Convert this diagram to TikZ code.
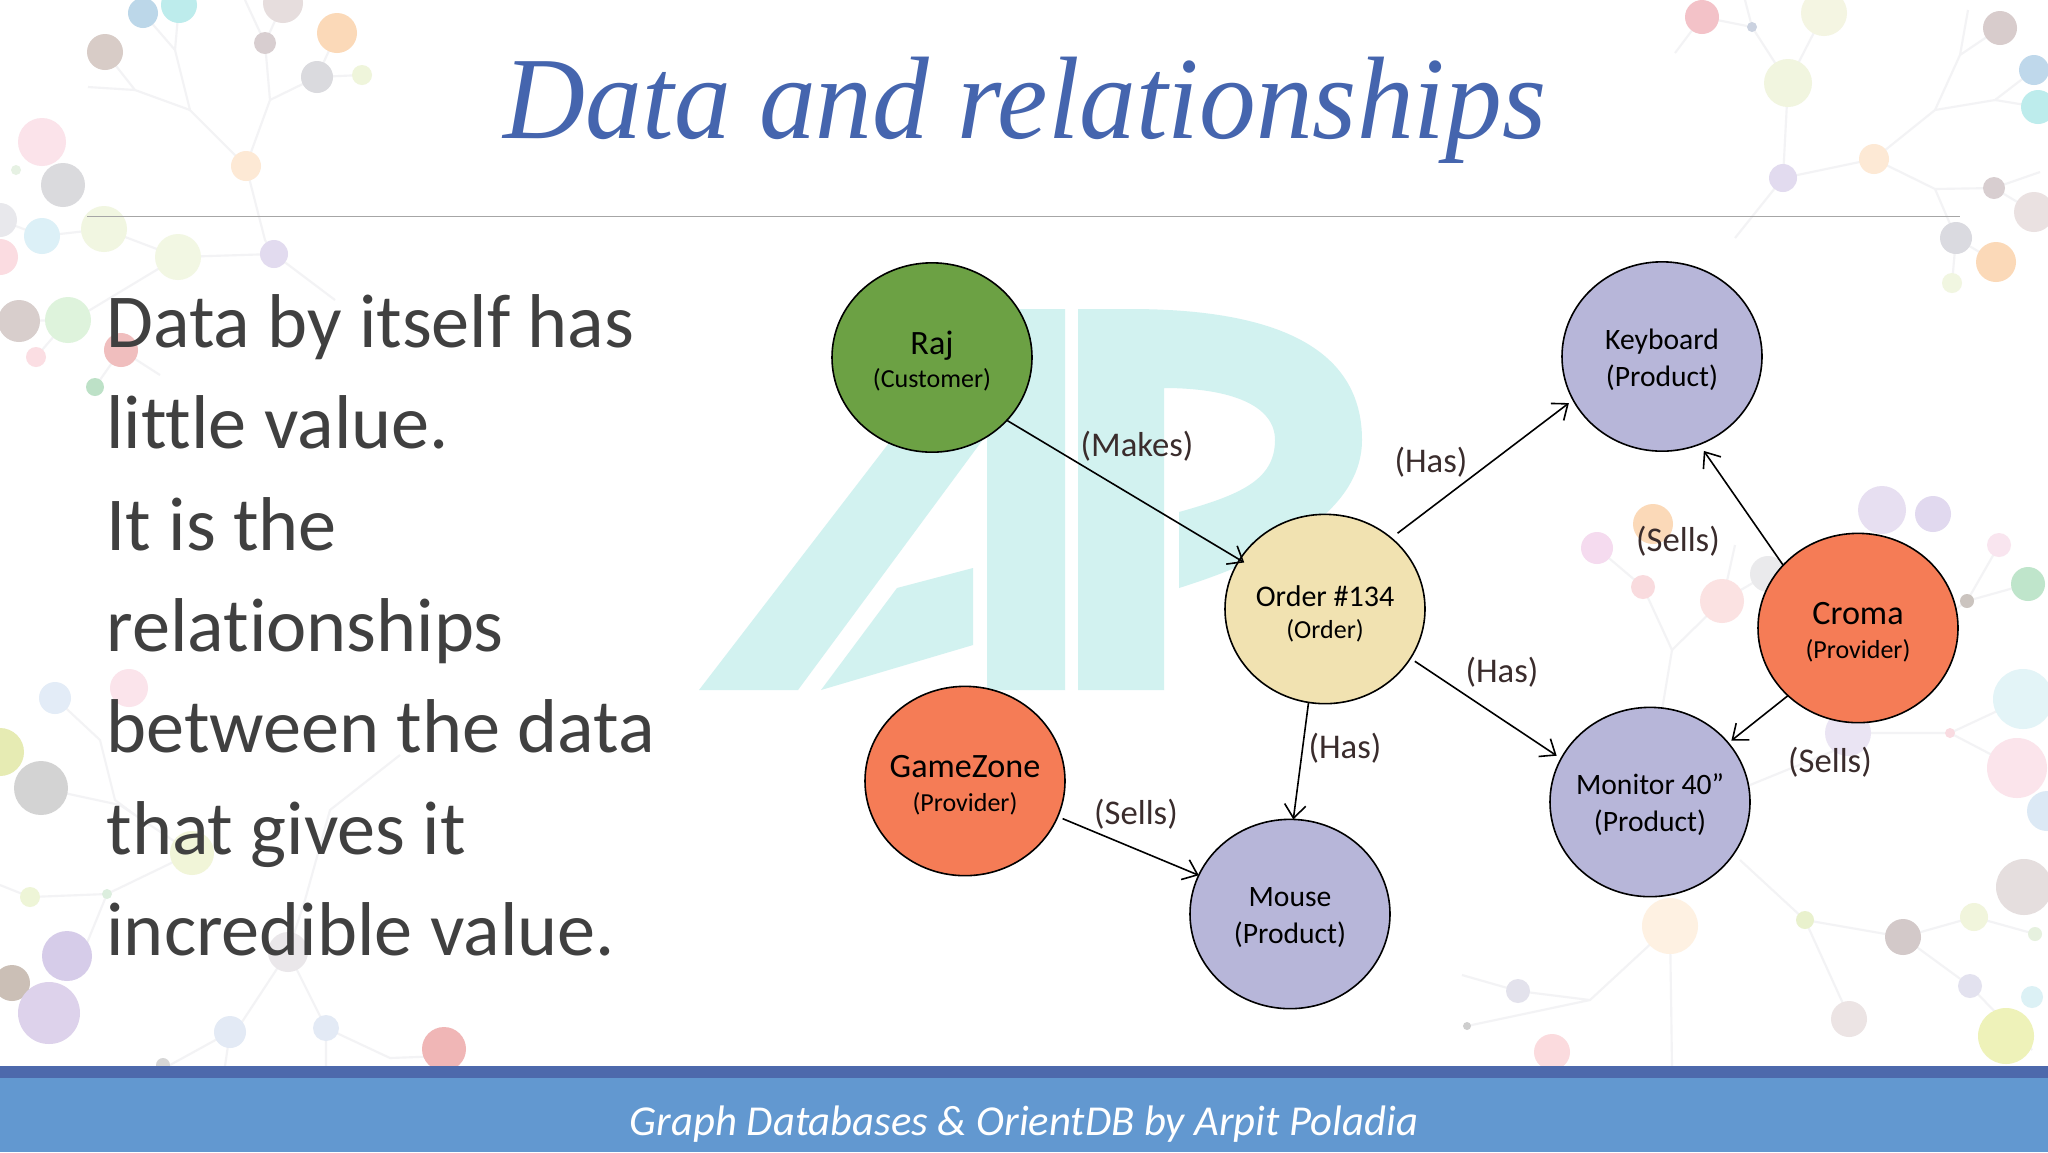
\documentclass[tikz,border=0pt]{standalone}
\usepackage{fontspec}
\setmainfont[Ligatures=CommonOff]{Carlito}
\newfontfamily\titlefont{Liberation Serif}
\usetikzlibrary{arrows.meta,shapes.geometric}

\definecolor{titleblue}{HTML}{4565AE}
\definecolor{bodygray}{HTML}{404040}
\definecolor{rulegray}{HTML}{A6A6A6}
\definecolor{stripblue}{HTML}{4D69AC}
\definecolor{footblue}{HTML}{6298D0}
\definecolor{markcyan}{HTML}{D2F2F0}
\definecolor{twiggray}{HTML}{F3F3F5}
\definecolor{custgreen}{HTML}{6CA144}
\definecolor{ordersand}{HTML}{F1E2B1}
\definecolor{prodlilac}{HTML}{B7B6D9}
\definecolor{provorange}{HTML}{F57C56}
\definecolor{edgebrown}{HTML}{3A2C2C}

\tikzset{
  entity/.style={ellipse,draw=black,line width=0.6pt,inner sep=0pt,inner xsep=-6pt,outer sep=0pt,
    minimum width=75pt,minimum height=71pt,align=center,text=black,
    font=\fontsize{9.75}{11.5}\selectfont},
  prodtype/.style={font=\fontsize{11.1}{14}\selectfont},
  rel/.style={-{Straight Barb[length=5pt,width=8pt]},line width=0.6pt,black},
  edgetext/.style={text=edgebrown,inner sep=0pt,font=\fontsize{13}{15}\selectfont},
  twig/.style={twiggray,line width=0.8pt},
}
\newcommand{\bigname}[1]{\rule{0pt}{11.5pt}{\fontsize{12.8}{14}\selectfont #1}}
\newcommand{\midname}[1]{\rule{0pt}{11.5pt}{\fontsize{11.25}{14}\selectfont #1}}
\newcommand{\prodname}[1]{\rule{0pt}{10pt}#1}

\begin{document}
\begin{tikzpicture}[x=0.375pt,y=0.375pt,yscale=-1,xscale=1]
  \useasboundingbox (0,0) rectangle (2048,1152);
  \fill[white] (0,0) rectangle (2048,1152);

  % background twigs
  \draw[twig] (143,13) -- (175,50) -- (190,110) -- (246,166) -- (270,100) -- (265,43);
  \draw[twig] (270,100) -- (317,77) (317,77) -- (337,33) (317,77) -- (362,75);
  \draw[twig] (190,110) -- (135,90) -- (88,87) (105,52) -- (135,90) (179,5) -- (175,50);
  \draw[twig] (265,43) -- (245,0) (265,43) -- (283,3);
  \draw[twig] (246,166) -- (265,240) -- (274,254) -- (335,300);
  \draw[twig] (104,229) -- (178,257) -- (274,254) (42,236) -- (104,229) (0,220) -- (42,236);
  \draw[twig] (178,257) -- (90,310) -- (68,320) -- (19,321) (121,350) -- (160,375);
  \draw[twig] (68,320) -- (36,357) (121,350) -- (95,387);
  \draw[twig] (55,698) -- (100,740) -- (115,800) -- (135,815) (41,788) -- (120,805);
  \draw[twig] (120,805) -- (192,853) -- (107,894) -- (80,960) (30,897) -- (107,894) (0,885) -- (30,897);
  \draw[twig] (288,952) -- (240,1025) (288,952) -- (322,1020) (230,1032) -- (170,1065);
  \draw[twig] (326,1028) -- (390,1058) -- (444,1056) (326,1028) -- (326,1066) (230,1032) -- (225,1066);
  \draw[twig] (400,755) -- (330,810) -- (305,900) -- (288,952);
  \draw[twig] (1675,53) -- (1702,17) -- (1752,27) -- (1788,83) -- (1824,13) (1745,0) -- (1752,27);
  \draw[twig] (1788,83) -- (1783,178) -- (1874,159) -- (1935,110) -- (1995,100) -- (2034,70);
  \draw[twig] (1995,100) -- (2038,107) (1935,110) -- (1960,55) -- (2000,28) (1960,55) -- (1968,10);
  \draw[twig] (1874,159) -- (1935,189) -- (1994,188) -- (2040,172) (1994,188) -- (2034,212);
  \draw[twig] (1935,189) -- (1956,238) -- (1996,262) (1956,238) -- (1952,283) (1783,178) -- (1735,238);
  \draw[twig] (1597,548) -- (1643,587) -- (1672,650) -- (1722,601) -- (1768,574);
  \draw[twig] (1672,650) -- (1662,710) (1735,545) -- (1725,590);
  \draw[twig] (1848,733) -- (1950,733) -- (2023,699) (1950,733) -- (2017,768) (1750,785) -- (1848,745);
  \draw[twig] (1999,545) -- (1967,601) -- (1933,625) (1967,601) -- (2028,584);
  \draw[twig] (1670,926) -- (1590,1000) -- (1518,991) -- (1462,975) (1590,1000) -- (1467,1026) (1670,926) -- (1672,1066);
  \draw[twig] (1805,920) -- (1903,937) -- (1974,917) -- (2035,934) (1805,920) -- (1850,1019);
  \draw[twig] (1903,937) -- (1970,986) -- (2032,1050) (1740,860) -- (1805,920);

  % background dots
  \foreach \x/\y/\r/\c in {
    143/13/15/BCD7E9, 179/5/18/BDECEC, 283/3/20/E6DDDD, 337/33/20/FBD9B8,
    105/52/18/D8CCC7, 265/43/11/D8CED0, 317/77/16/DADADE, 362/75/10/EFF5DB,
    246/166/15/FDE9D5, 42/142/24/FBE3EA, 63/185/22/DADADD, 16/170/5/E6F1E3,
    0/220/17/E8E8EC, 42/236/18/DCF0F7, 104/229/23/F1F6E1, 0/257/18/FBDCE1,
    178/257/23/F2F7E3, 274/254/14/E2DBEF, 19/321/21/D8CECC, 68/320/23/DEF3DC,
    121/350/17/F0BEBE, 36/357/10/FBDEE3, 95/387/9/BDE1C7,
    55/698/16/E3ECF7, 129/688/19/FBE4EB, 0/752/24/E6EBB3, 41/788/27/D3D3D3,
    192/853/22/F1F5D8, 30/897/10/EEF5D7, 107/894/5/DCEEDE, 67/956/25/D6CCE9,
    12/983/18/CBBFB6, 49/1013/31/DDD2EB, 288/952/20/EAE7EA, 230/1032/16/E3EAF5,
    326/1028/13/E3EAF5, 444/1049/22/F0B6B6, 163/1065/7/D6D6D6,
    1702/17/17/F3C2C8, 1752/27/5/CBD2E0, 1824/13/23/F4F5E2, 1788/83/24/F1F5DF,
    2000/28/17/D8CCCC, 2034/70/15/BFD8EB, 2038/107/17/BDECEC, 1874/159/15/FDE9D5,
    1783/178/14/E2DBEF, 1994/188/11/D8CED0, 2034/212/20/EAE1E1, 1956/238/16/DADAE0,
    1996/262/20/FBD9B8, 1952/283/10/F1F6E1,
    1653/524/20/FBD9B8, 1597/548/16/F5DBEF, 1643/587/12/F9DBDE, 1722/601/22/FBE2E2,
    1768/574/18/EAEAEC, 1882/510/24/E7DFF1, 1933/514/18/E1D9EF, 1999/545/12/F9E5EF,
    2028/584/17/BFE5CB, 1967/601/7/CBC4BF, 2023/699/30/E3F4F7, 2017/768/30/FBE4EB,
    1950/733/5/F9DBE1, 1848/733/23/EAE4F3, 2047/811/20/DCE9F5, 1670/926/28/FEF1E2,
    2024/887/28/E5DEDE, 1805/920/9/E9F1CD, 1974/917/14/F1F5DC, 2035/934/7/E6F1DF,
    1903/937/18/D3C9C9, 1970/986/12/E3E2EF, 2032/997/11/DCF1F5, 1518/991/12/E3E2EC,
    1467/1026/4/CECECE, 1849/1019/18/ECE4E4, 2006/1036/28/EEF2B9, 1552/1052/18/FBDBDE}
  {
    \definecolor{dotfill}{HTML}{\c}
    \fill[dotfill] (\x,\y) circle[radius=\r];
  }

  % watermark
  \fill[markcyan] (699,690) -- (992,309) -- (1065,309) -- (1065,690) -- (987,690) -- (987,434) -- (798,690) -- cycle;
  \fill[markcyan] (897,588) -- (973,568) -- (973,645) -- (821,690) -- cycle;
  \fill[markcyan] (1078,309) -- (1130,309) .. controls (1280,309) and (1362,350) .. (1362,440)
    .. controls (1362,500) and (1300,550) .. (1179,588) -- (1179,512)
    .. controls (1240,495) and (1275,480) .. (1275,440) .. controls (1275,405) and (1230,388) .. (1164,388)
    -- (1164,690) -- (1078,690) -- cycle;

  % header and footer
  \node[text=titleblue,inner sep=0pt,font=\titlefont\itshape\fontsize{44}{50}\selectfont] (heading) at (1025,110) {\scalebox{0.967}[1]{Data and relationships}};
  \coordinate (ruleL) at (87,216.5);
  \coordinate (ruleR) at (1960,216.5);
  \draw[rulegray,line width=0.6pt] (ruleL) -- (ruleR);
  \fill[stripblue] (0,1066) rectangle (2048,1078);
  \fill[footblue] (0,1078) rectangle (2048,1152);
  \node[text=white,inner sep=0pt,font=\itshape\fontsize{16}{18}\selectfont] (footer) at (1024,1124) {Graph Databases \& OrientDB by Arpit Poladia};

  % left text
  \node[anchor=north west,text=bodygray,inner sep=0pt,align=left,font=\fontsize{28.6}{38}\selectfont] (bodytext) at (106,294)
    {Data by itself has\\little value.\\It is the\\relationships\\between the data\\that gives it\\incredible value.};

  % graph
  \node[entity,fill=custgreen] (raj) at (932,357.5) {\bigname{Raj}\\[1pt](Customer)};
  \node[entity,fill=ordersand] (order) at (1325,609) {\midname{Order \#134}\\[0.5pt](Order)};
  \node[entity,fill=prodlilac,prodtype] (keyboard) at (1662,356.5) {\prodname{Keyboard}\\(Product)};
  \node[entity,fill=provorange] (croma) at (1858,628) {\bigname{Croma}\\[1pt](Provider)};
  \node[entity,fill=prodlilac,prodtype] (monitor) at (1650,802) {\prodname{Monitor 40”}\\(Product)};
  \node[entity,fill=provorange] (gamezone) at (965,781) {\bigname{GameZone}\\[1pt](Provider)};
  \node[entity,fill=prodlilac,prodtype] (mouse) at (1290,914) {\prodname{Mouse}\\(Product)};

  \draw[rel,shorten >=-2pt] (raj.-40) -- (order.150);
  \draw[rel,shorten <=3pt,shorten >=2pt] (order.47) -- (keyboard.206);
  \draw[rel,shorten <=2pt,shorten >=2pt] (order.-30) -- (monitor.154);
  \draw[rel] (order.260) -- (mouse.88);
  \draw[rel,shorten <=2pt] (gamezone.-21) -- (mouse.157);
  \draw[rel,shorten >=3pt] (croma.140) -- (keyboard.-67);
  \draw[rel,shorten >=1.5pt] (croma.224) -- (monitor.37);

  \node[edgetext] (makes) at (1137,446) {(Makes)};
  \node[edgetext] (hasA) at (1431,462) {(Has)};
  \node[edgetext] (hasB) at (1502,672) {(Has)};
  \node[edgetext] (hasC) at (1345,748) {(Has)};
  \node[edgetext] (sellsA) at (1136,814) {(Sells)};
  \node[edgetext] (sellsB) at (1678,541) {(Sells)};
  \node[edgetext] (sellsC) at (1830,762) {(Sells)};
\end{tikzpicture}
\end{document}
